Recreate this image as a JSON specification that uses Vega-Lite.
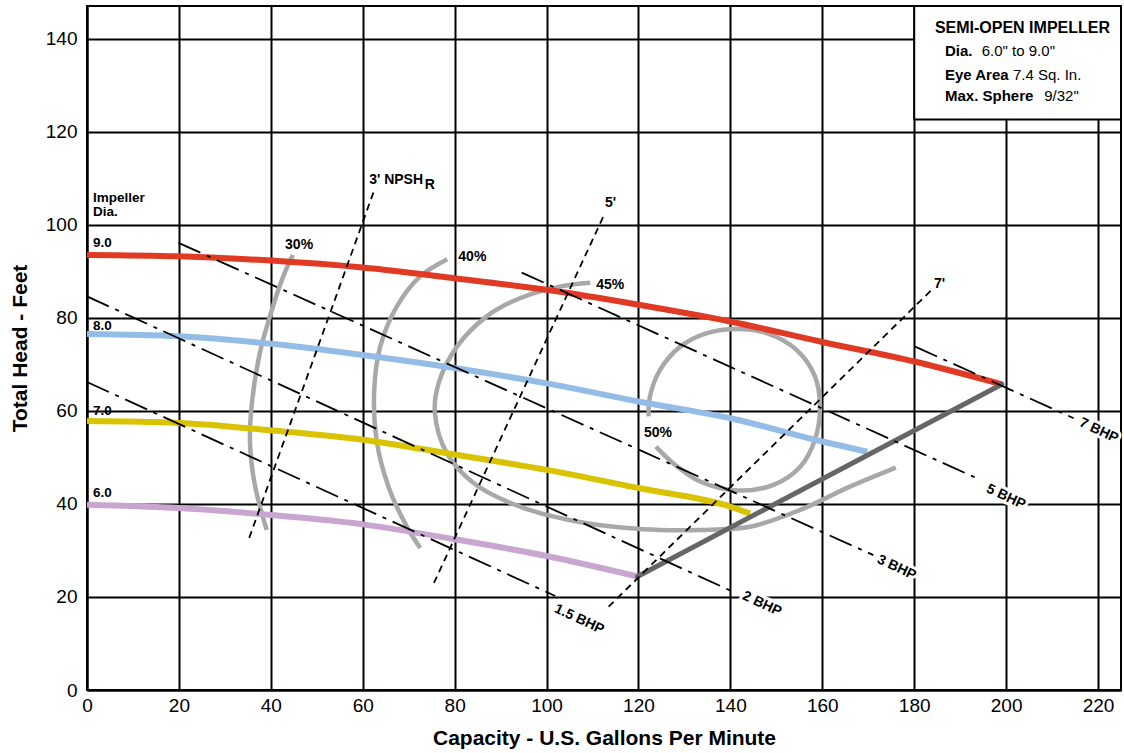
{
  "$schema": "https://vega.github.io/schema/vega-lite/v6.json",
  "width": 1034,
  "height": 684,
  "autosize": {"type": "none"},
  "padding": {"left": 87, "top": 6, "right": 3, "bottom": 63},
  "background": "white",
  "config": {
    "view": {"stroke": "#000", "strokeWidth": 2},
    "font": "Liberation Sans",
    "text": {"font": "Liberation Sans"}
  },
  "datasets": {
    "imp": [
      {"d": "9.0", "x": 0, "y": 93.5}, {"d": "9.0", "x": 20, "y": 93.2}, {"d": "9.0", "x": 40, "y": 92.3}, {"d": "9.0", "x": 60, "y": 90.8}, {"d": "9.0", "x": 80, "y": 88.5}, {"d": "9.0", "x": 100, "y": 86.0}, {"d": "9.0", "x": 120, "y": 82.8}, {"d": "9.0", "x": 140, "y": 79.2}, {"d": "9.0", "x": 160, "y": 74.8}, {"d": "9.0", "x": 180, "y": 70.6}, {"d": "9.0", "x": 199.1, "y": 65.7},
      {"d": "8.0", "x": 0, "y": 76.5}, {"d": "8.0", "x": 20, "y": 76.0}, {"d": "8.0", "x": 40, "y": 74.4}, {"d": "8.0", "x": 60, "y": 72.0}, {"d": "8.0", "x": 80, "y": 69.2}, {"d": "8.0", "x": 100, "y": 65.9}, {"d": "8.0", "x": 120, "y": 62.0}, {"d": "8.0", "x": 140, "y": 58.4}, {"d": "8.0", "x": 160, "y": 53.4}, {"d": "8.0", "x": 169.8, "y": 51.2},
      {"d": "7.0", "x": 0, "y": 57.8}, {"d": "7.0", "x": 20, "y": 57.4}, {"d": "7.0", "x": 40, "y": 55.8}, {"d": "7.0", "x": 60, "y": 53.8}, {"d": "7.0", "x": 80, "y": 50.6}, {"d": "7.0", "x": 100, "y": 47.3}, {"d": "7.0", "x": 120, "y": 43.4}, {"d": "7.0", "x": 140, "y": 39.4}, {"d": "7.0", "x": 144.3, "y": 37.9},
      {"d": "6.0", "x": 0, "y": 39.8}, {"d": "6.0", "x": 20, "y": 39.1}, {"d": "6.0", "x": 40, "y": 37.6}, {"d": "6.0", "x": 60, "y": 35.6}, {"d": "6.0", "x": 80, "y": 32.4}, {"d": "6.0", "x": 100, "y": 28.8}, {"d": "6.0", "x": 119.8, "y": 24.4}
    ],
    "eff": [
      {"c": "30%", "o": 1, "x": 44.8, "y": 93.5}, {"c": "30%", "o": 2, "x": 42.7, "y": 88.9}, {"c": "30%", "o": 3, "x": 39.8, "y": 80.3}, {"c": "30%", "o": 4, "x": 37.6, "y": 72.4}, {"c": "30%", "o": 5, "x": 35.8, "y": 60.9}, {"c": "30%", "o": 6, "x": 35.5, "y": 52.3}, {"c": "30%", "o": 7, "x": 36.6, "y": 43.7}, {"c": "30%", "o": 8, "x": 39.1, "y": 34.4},
      {"c": "40%", "o": 1, "x": 78.4, "y": 92.6}, {"c": "40%", "o": 2, "x": 72.5, "y": 88.9}, {"c": "40%", "o": 3, "x": 67.4, "y": 82.4}, {"c": "40%", "o": 4, "x": 63.8, "y": 73.8}, {"c": "40%", "o": 5, "x": 62.5, "y": 64.5}, {"c": "40%", "o": 6, "x": 63.0, "y": 53.8}, {"c": "40%", "o": 7, "x": 65.6, "y": 43.7}, {"c": "40%", "o": 8, "x": 69.6, "y": 35.1}, {"c": "40%", "o": 9, "x": 72.5, "y": 30.5},
      {"c": "45%", "o": 1, "x": 109.5, "y": 87.5}, {"c": "45%", "o": 2, "x": 102.9, "y": 86.7}, {"c": "45%", "o": 3, "x": 94.2, "y": 84.2}, {"c": "45%", "o": 4, "x": 87.0, "y": 80.3}, {"c": "45%", "o": 5, "x": 80.5, "y": 73.8}, {"c": "45%", "o": 6, "x": 76.5, "y": 65.9}, {"c": "45%", "o": 7, "x": 75.7, "y": 59.5}, {"c": "45%", "o": 8, "x": 78.3, "y": 50.9}, {"c": "45%", "o": 9, "x": 84.1, "y": 44.5}, {"c": "45%", "o": 10, "x": 94.2, "y": 39.4}, {"c": "45%", "o": 11, "x": 106.6, "y": 36.2}, {"c": "45%", "o": 12, "x": 117.5, "y": 34.8}, {"c": "45%", "o": 13, "x": 124.7, "y": 34.4}, {"c": "45%", "o": 14, "x": 133.4, "y": 34.4}, {"c": "45%", "o": 15, "x": 144.3, "y": 35.1}, {"c": "45%", "o": 16, "x": 155.2, "y": 38.7}, {"c": "45%", "o": 17, "x": 166.0, "y": 43.7}, {"c": "45%", "o": 18, "x": 176.0, "y": 47.8},
      {"c": "50%", "o": 1, "x": 122.2, "y": 58.8}, {"c": "50%", "o": 2, "x": 122.5, "y": 63.1}, {"c": "50%", "o": 3, "x": 124.7, "y": 68.8}, {"c": "50%", "o": 4, "x": 129.1, "y": 73.8}, {"c": "50%", "o": 5, "x": 134.9, "y": 76.7}, {"c": "50%", "o": 6, "x": 141.4, "y": 77.6}, {"c": "50%", "o": 7, "x": 147.9, "y": 76.7}, {"c": "50%", "o": 8, "x": 154.4, "y": 73.1}, {"c": "50%", "o": 9, "x": 158.4, "y": 67.4}, {"c": "50%", "o": 10, "x": 159.5, "y": 60.9}, {"c": "50%", "o": 11, "x": 158.4, "y": 53.8}, {"c": "50%", "o": 12, "x": 155.2, "y": 48.0}, {"c": "50%", "o": 13, "x": 149.4, "y": 44.1}, {"c": "50%", "o": 14, "x": 141.4, "y": 42.9}, {"c": "50%", "o": 15, "x": 133.4, "y": 44.8}, {"c": "50%", "o": 16, "x": 127.6, "y": 48.7}, {"c": "50%", "o": 17, "x": 123.8, "y": 52.3}
    ],
    "maxl": [
      {"x": 119.8, "y": 24.4}, {"x": 199.1, "y": 65.7}
    ],
    "bhp": [
      {"c": "1.5", "x": 0, "y": 66.2}, {"c": "1.5", "x": 101.9, "y": 20.2},
      {"c": "2", "x": 0, "y": 84.6}, {"c": "2", "x": 140.6, "y": 21.1},
      {"c": "3", "x": 19.9, "y": 96.1}, {"c": "3", "x": 171.1, "y": 29.0},
      {"c": "5", "x": 94.6, "y": 89.7}, {"c": "5", "x": 194.3, "y": 45.2},
      {"c": "7", "x": 180.2, "y": 73.8}, {"c": "7", "x": 214.7, "y": 58.4}
    ],
    "npsh": [
      {"c": "3", "x": 62.5, "y": 107.4}, {"c": "3", "x": 35.3, "y": 32.7},
      {"c": "5", "x": 112.7, "y": 102.5}, {"c": "5", "x": 75.5, "y": 23.0},
      {"c": "7", "x": 183.8, "y": 86.0}, {"c": "7", "x": 113.5, "y": 17.9}
    ],
    "txt": [
      {"g": "imp", "t": "Impeller", "x": 1.3, "y": 104.9},
      {"g": "imp", "t": "Dia.", "x": 1.3, "y": 101.8},
      {"g": "imp", "t": "9.0", "x": 1.3, "y": 95.2},
      {"g": "imp", "t": "8.0", "x": 1.3, "y": 77.3},
      {"g": "imp", "t": "7.0", "x": 1.3, "y": 59.0},
      {"g": "imp", "t": "6.0", "x": 1.3, "y": 41.4},
      {"g": "eff", "t": "30%", "x": 43.1, "y": 94.8},
      {"g": "eff", "t": "40%", "x": 80.8, "y": 92.1},
      {"g": "eff", "t": "45%", "x": 110.8, "y": 86.2},
      {"g": "eff", "t": "50%", "x": 121.2, "y": 54.3},
      {"g": "eff", "t": "3' NPSH", "x": 61.4, "y": 108.7},
      {"g": "eff", "t": "R", "x": 73.5, "y": 107.7},
      {"g": "eff", "t": "5'", "x": 112.7, "y": 103.8},
      {"g": "eff", "t": "7'", "x": 184.3, "y": 86.3},
      {"g": "bhp", "t": "1.5 BHP", "x": 101.9, "y": 17.6},
      {"g": "bhp", "t": "2 BHP", "x": 142.8, "y": 20.4},
      {"g": "bhp", "t": "3 BHP", "x": 172.1, "y": 28.2},
      {"g": "bhp", "t": "5 BHP", "x": 195.9, "y": 43.4},
      {"g": "bhp", "t": "7 BHP", "x": 216.1, "y": 57.6},
      {"g": "bt", "t": "SEMI-OPEN IMPELLER", "x": 184.5, "y": 141.1},
      {"g": "bb", "t": "Dia.", "x": 186.7, "y": 136.3},
      {"g": "bb", "t": "Eye Area", "x": 186.7, "y": 131.0},
      {"g": "bb", "t": "Max. Sphere", "x": 186.7, "y": 126.5},
      {"g": "bn", "t": "6.0\" to 9.0\"", "x": 194.7, "y": 136.3},
      {"g": "bn", "t": "7.4 Sq. In.", "x": 201.5, "y": 131.0},
      {"g": "bn", "t": "9/32\"", "x": 208.3, "y": 126.5}
    ]
  },
  "encoding": {
    "x": {
      "field": "x", "type": "quantitative",
      "scale": {"domain": [0, 225], "nice": false, "zero": false},
      "axis": {
        "values": [0, 20, 40, 60, 80, 100, 120, 140, 160, 180, 200, 220],
        "title": "Capacity - U.S. Gallons Per Minute",
        "grid": true, "gridColor": "#000", "gridWidth": 2, "gridOpacity": 1,
        "domainColor": "#000", "domainWidth": 2,
        "ticks": false,
        "labelFont": "Liberation Sans", "labelFontSize": 19, "labelColor": "#000", "labelPadding": 6,
        "labelFlush": false, "labelOverlap": false,
        "titleFont": "Liberation Sans", "titleFontSize": 21, "titleFontWeight": "bold", "titleColor": "#000", "titlePadding": 12
      }
    },
    "y": {
      "field": "y", "type": "quantitative",
      "scale": {"domain": [0, 147], "nice": false, "zero": false},
      "axis": {
        "values": [0, 20, 40, 60, 80, 100, 120, 140],
        "title": "Total Head - Feet",
        "grid": true, "gridColor": "#000", "gridWidth": 2, "gridOpacity": 1,
        "domainColor": "#000", "domainWidth": 2,
        "ticks": false,
        "labelFont": "Liberation Sans", "labelFontSize": 19, "labelColor": "#000", "labelPadding": 10,
        "labelFlush": false, "labelOverlap": false,
        "titleFont": "Liberation Sans", "titleFontSize": 21, "titleFontWeight": "bold", "titleColor": "#000", "titlePadding": 15
      }
    }
  },
  "layer": [
    {
      "data": {"values": [{"x": 180, "x2": 225, "y": 122.6, "y2": 147}]},
      "mark": {"type": "rect", "fill": "white", "stroke": "#000", "strokeWidth": 2},
      "encoding": {"x2": {"field": "x2"}, "y2": {"field": "y2"}}
    },
    {
      "data": {"name": "eff"},
      "mark": {"type": "line", "color": "#a8a8a8", "strokeWidth": 4.5, "interpolate": "catmull-rom", "strokeCap": "butt"},
      "encoding": {"detail": {"field": "c"}, "order": {"field": "o", "type": "quantitative"}}
    },
    {
      "data": {"name": "imp"},
      "mark": {"type": "line", "strokeWidth": 6, "interpolate": "monotone", "strokeCap": "butt"},
      "encoding": {
        "color": {"field": "d", "type": "nominal", "scale": {"domain": ["9.0", "8.0", "7.0", "6.0"], "range": ["#e03a24", "#93bde6", "#d9c200", "#c9a6cf"]}, "legend": null}
      }
    },
    {
      "data": {"name": "maxl"},
      "mark": {"type": "line", "color": "#666666", "strokeWidth": 5, "strokeCap": "round"},
      "encoding": {}
    },
    {
      "data": {"name": "bhp"},
      "mark": {"type": "line", "color": "#000", "strokeWidth": 1.8, "strokeDash": [24, 7, 4, 7]},
      "encoding": {"detail": {"field": "c"}}
    },
    {
      "data": {"name": "npsh"},
      "mark": {"type": "line", "color": "#000", "strokeWidth": 1.8, "strokeDash": [7, 5]},
      "encoding": {"detail": {"field": "c"}}
    },
    {
      "data": {"name": "txt"},
      "transform": [{"filter": "datum.g == 'imp'"}],
      "mark": {"type": "text", "align": "left", "baseline": "alphabetic", "fontSize": 13.5, "fontWeight": "bold", "color": "#000"},
      "encoding": {"text": {"field": "t"}}
    },
    {
      "data": {"name": "txt"},
      "transform": [{"filter": "datum.g == 'eff'"}],
      "mark": {"type": "text", "align": "left", "baseline": "alphabetic", "fontSize": 14, "fontWeight": "bold", "color": "#000"},
      "encoding": {"text": {"field": "t"}}
    },
    {
      "data": {"name": "txt"},
      "transform": [{"filter": "datum.g == 'bhp'"}],
      "mark": {"type": "text", "align": "left", "baseline": "middle", "angle": 25, "fontSize": 14, "fontWeight": "bold", "color": "white", "stroke": "white", "strokeWidth": 6},
      "encoding": {"text": {"field": "t"}}
    },
    {
      "data": {"name": "txt"},
      "transform": [{"filter": "datum.g == 'bhp'"}],
      "mark": {"type": "text", "align": "left", "baseline": "middle", "angle": 25, "fontSize": 14, "fontWeight": "bold", "color": "#000"},
      "encoding": {"text": {"field": "t"}}
    },
    {
      "data": {"name": "txt"},
      "transform": [{"filter": "datum.g == 'bt'"}],
      "mark": {"type": "text", "align": "left", "baseline": "alphabetic", "fontSize": 16, "fontWeight": "bold", "color": "#000"},
      "encoding": {"text": {"field": "t"}}
    },
    {
      "data": {"name": "txt"},
      "transform": [{"filter": "datum.g == 'bb'"}],
      "mark": {"type": "text", "align": "left", "baseline": "alphabetic", "fontSize": 15, "fontWeight": "bold", "color": "#000"},
      "encoding": {"text": {"field": "t"}}
    },
    {
      "data": {"name": "txt"},
      "transform": [{"filter": "datum.g == 'bn'"}],
      "mark": {"type": "text", "align": "left", "baseline": "alphabetic", "fontSize": 15, "fontWeight": "normal", "color": "#000"},
      "encoding": {"text": {"field": "t"}}
    }
  ]
}
